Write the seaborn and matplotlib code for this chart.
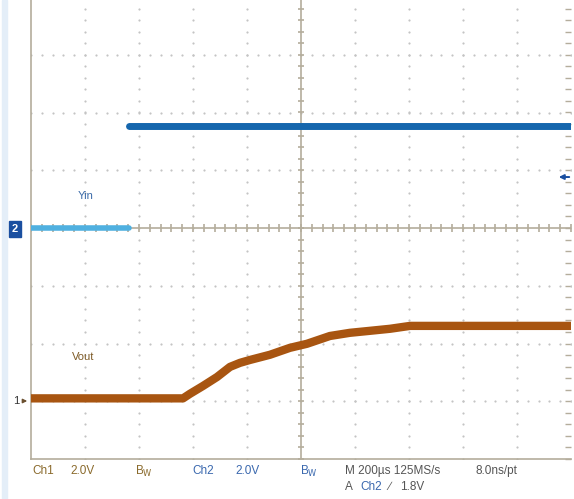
import matplotlib.pyplot as plt
import seaborn as sns
import numpy as np
import pandas as pd

# scope settings
time_per_div = 200.0      # us/div
volts_per_div = 2.0       # V/div (both channels)
ch2_offset = 0.0          # div
ch1_offset = -2.95        # div
trig_level = 1.8          # V on Ch2

# Ch2 (Yin), time in us, volts
yin_t = [-1000, -637, -637, 1000]
yin_v = [0.0, 0.0, 3.53, 3.53]
yin_part = ["low", "low", "high", "high"]

# Ch1 (Vout)
vout_t = [-1000, -437, -411, -363, -311, -263, -226, -189, -115, -41, 22, 107, 181, 256, 330, 404, 515, 1000]
vout_v = [0.0, 0.0, 0.16, 0.43, 0.74, 1.09, 1.23, 1.33, 1.51, 1.75, 1.89, 2.16, 2.27, 2.34, 2.41, 2.51, 2.51, 2.51]

W, H = 574, 499
sns.set_style("white")
plt.rcParams['font.family'] = ['Liberation Sans', 'DejaVu Sans']

fig = plt.figure(figsize=(W / 100, H / 100), dpi=100)
ax = fig.add_axes([31 / W, (H - 459) / H, 540 / W, 462 / H])
ax.set_xlim(-1000, 1000)
ax.set_ylim(-4, 4)

gcol = "#b4ad9c"
dcol = "#c4c4c4"

# dotted graticule
xs_major = np.arange(-800, 801, 200)
ys_major = np.arange(-3, 3.1, 1)
xs_minor = np.arange(-1000, 1001, 40)
ys_minor = np.arange(-4, 4.01, 0.2)
for xm in xs_major:
    if xm != 0:
        ax.scatter(np.full(len(ys_minor), xm), ys_minor, s=2.5, color=dcol, linewidths=0, zorder=1)
for ym in ys_major:
    if ym != 0:
        ax.scatter(xs_minor, np.full(len(xs_minor), ym), s=2.5, color=dcol, linewidths=0, zorder=1)

# centre cross with ticks
ax.axhline(0, color=gcol, lw=1.2, zorder=1)
ax.axvline(0, color=gcol, lw=1.2, zorder=1)
ax.plot(xs_minor, np.zeros(len(xs_minor)), ls="none", marker="|", ms=6, mew=1.2, color=gcol, zorder=1)
ax.plot(np.zeros(len(ys_minor)), ys_minor, ls="none", marker="_", ms=5, mew=1.2, color=gcol, zorder=1)

# border
for side in ["left", "bottom"]:
    ax.spines[side].set_color(gcol)
    ax.spines[side].set_linewidth(1.2)
ax.spines["top"].set_visible(False)
ax.spines["right"].set_visible(False)
ax.set_xticks(xs_minor)
ax.set_yticks(ys_minor)
ax.tick_params(direction="in", length=4, width=1, color=gcol,
               right=True, labelbottom=False, labelleft=False)

# traces
yin = pd.DataFrame({"t": yin_t,
                    "div": np.array(yin_v) / volts_per_div + ch2_offset,
                    "part": yin_part})
vout = pd.DataFrame({"t": vout_t,
                     "div": np.array(vout_v) / volts_per_div + ch1_offset})

sns.lineplot(data=yin[yin.part == "low"], x="t", y="div", color="#4fb0e0",
             lw=4.0, sort=False, estimator=None, ax=ax, zorder=3)
sns.lineplot(data=yin[yin.part == "high"], x="t", y="div", color="#1566ad",
             lw=5.0, sort=False, estimator=None, ax=ax, zorder=3)
sns.lineplot(data=vout, x="t", y="div", color="#a85511",
             lw=6.0, sort=False, estimator=None, ax=ax, zorder=3)
ax.set_xlabel("")
ax.set_ylabel("")


def px(x, y):
    return x / W, 1 - y / H


# trace labels
fig.text(*px(78, 196), "Yin", color="#3a6aa8", fontsize=8, va="center")
fig.text(*px(72, 357), "Vout", color="#7d5a26", fontsize=8, va="center")

# ground markers
fig.text(*px(12, 229), "2", color="white", fontsize=8, va="center", ha="left",
         fontweight="bold",
         bbox=dict(boxstyle="square,pad=0.25", fc="#1a4fa0", ec="#1a4fa0"))
fig.text(*px(13, 401), "1", color="#333333", fontsize=8, va="center", ha="left")
ax.annotate("", xy=px(30, 401), xytext=px(21, 401), xycoords="figure fraction",
            arrowprops=dict(arrowstyle="-|>", color="#6b5030", lw=1, mutation_scale=6))
ax.annotate("", xy=px(31, 229), xytext=px(24, 229), xycoords="figure fraction",
            arrowprops=dict(arrowstyle="-|>", color="white", lw=1, mutation_scale=6))

# trigger level arrow
trig_y = 229 - trig_level / volts_per_div * 57.75
ax.annotate("", xy=px(556, trig_y), xytext=px(572, trig_y), xycoords="figure fraction",
            arrowprops=dict(arrowstyle="-|>", color="#1a4fa0", lw=1.4, mutation_scale=7))

# readout
c1 = "#8a6a2c"
c2 = "#3a68ae"
cg = "#555555"
row1 = 471
row2 = 487
fs = 8.5
fig.text(*px(32, row1), "Ch1", color=c1, fontsize=fs, va="center")
fig.text(*px(70, row1), "2.0V", color=c1, fontsize=fs, va="center")
fig.text(*px(135, row1), "B$_{\\rm W}$", color=c1, fontsize=fs, va="center")
fig.text(*px(192, row1), "Ch2", color=c2, fontsize=fs, va="center")
fig.text(*px(235, row1), "2.0V", color=c2, fontsize=fs, va="center")
fig.text(*px(300, row1), "B$_{\\rm W}$", color=c2, fontsize=fs, va="center")
fig.text(*px(345, row1), "M 200\u00b5s 125MS/s", color=cg, fontsize=fs, va="center")
fig.text(*px(475, row1), "8.0ns/pt", color=cg, fontsize=fs, va="center")
fig.text(*px(345, row2), "A", color=cg, fontsize=fs, va="center")
fig.text(*px(360, row2), "Ch2", color=c2, fontsize=fs, va="center")
fig.text(*px(388, row2), "\u2215", color=cg, fontsize=fs, va="center")
fig.text(*px(400, row2), "1.8V", color=cg, fontsize=fs, va="center")

# pale edge strip on the left
fig.patches.append(plt.Rectangle((2 / W, 0), 5 / W, 1, transform=fig.transFigure,
                                 color="#e4eef8", zorder=0))

fig.savefig("out.png", dpi=100)
